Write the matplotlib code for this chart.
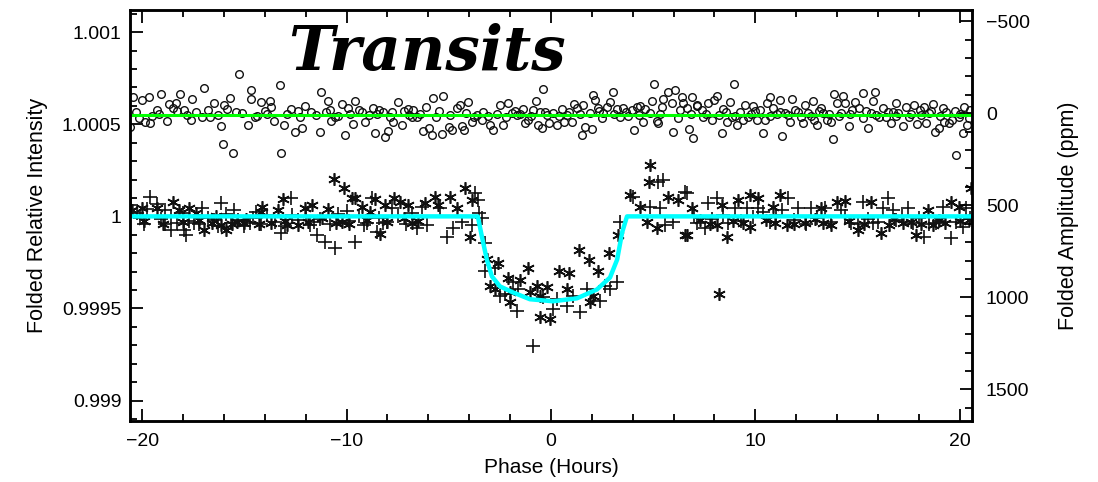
import matplotlib
matplotlib.use("Agg")
import matplotlib.pyplot as plt
from matplotlib.ticker import MultipleLocator, FuncFormatter

# folded data: (phase in hours, amplitude in ppm on the right axis)
circles = [
    (-20.44, -86), (-20.15, 27), (-20.6, 75), (-20.0, -70), (-19.66, -86), (-19.85, 49), (-19.6, 54),
    (-19.3, -16), (-19.07, -103), (-18.77, 43), (-18.68, -49), (-18.33, -54), (-18.14, -103), (-17.94, -16),
    (-17.6, 38), (-17.55, -76), (-16.96, -135), (-17.1, 22), (-16.67, 22), (-16.47, -54), (-16.13, 70),
    (-16.03, 167), (-15.98, -43), (-15.69, -81), (-15.54, 216), (-15.25, -211), (-14.85, 65), (-14.7, -124),
    (-14.66, -76), (-14.5, 22), (-14.17, -59), (-13.77, -65), (-13.68, -32), (-13.53, 43), (-13.28, -151),
    (-13.19, 216), (-13.04, 65), (-12.7, -22), (-12.55, 103), (-12.2, 81), (-12.06, -38), (-11.72, -5),
    (-11.32, 103), (-11.23, -113), (-10.93, -65), (-10.74, 43), (-10.59, 22), (-10.25, -49), (-10.1, 119),
    (-9.95, -27), (-9.6, -65), (-9.7, 59), (-9.26, -5), (-9.12, 49), (-8.73, -27), (-8.63, 108), (-8.24, -5),
    (-8.14, 130), (-7.99, 97), (-7.79, -5), (-7.75, 49), (-7.5, -59), (-7.3, 65), (-7.0, -22), (-6.81, 22),
    (-19.17, 5), (-18.28, -11), (-17.35, -5), (-16.3, 11), (-15.85, -22), (-15.1, 0), (-14.4, 16), (-14.0, -11),
    (-12.9, 5), (-12.4, -11), (-11.5, 11), (-11.0, -5), (-10.4, 16), (-9.85, 5), (-9.4, -16), (-8.9, 11),
    (-8.4, -16), (-7.9, 22), (-7.2, -11), (-6.95, 11), (-20.3, -5), (-19.5, 16), (-18.5, -27), (-17.8, 11),
    (-16.8, -16), (-15.4, -5), (-13.9, 5), (-12.3, 22), (-10.8, -16), (-8.5, 5),
    (-6.76, -16), (-6.57, 22), (-6.27, 97), (-6.13, -32), (-5.98, 81), (-5.83, 119), (-5.78, -81), (-5.64, 22),
    (-5.34, 113), (-5.29, -92), (-5.0, 76), (-4.85, 92), (-4.6, -27), (-4.46, -43), (-4.36, 70), (-4.26, 92),
    (-4.07, -59), (-3.87, 49), (-3.77, 22), (-3.38, 38), (-3.33, -5), (-2.99, 65), (-2.84, 92), (-2.5, -43),
    (-2.35, 65), (-2.1, -54), (-1.91, 0), (-1.67, 11), (-1.37, -22), (-1.27, 54), (-1.13, 38), (-0.88, -16),
    (-0.74, -65), (-0.64, 65), (-0.44, 81), (-0.39, -130), (-0.29, -5), (-0.1, 54), (0.1, 0), (0.29, 65),
    (0.54, -22), (0.64, 49), (0.78, 11), (1.03, 49), (1.13, -49), (1.27, -27), (1.52, 119), (1.57, -43),
    (1.67, 76), (1.91, 0), (2.0, 86), (2.06, -97), (2.16, -70), (2.3, -27), (2.5, 27), (2.55, 0), (2.75, -32),
    (2.89, -59), (3.04, -113), (3.24, -22), (3.38, 22), (3.53, -27), (3.77, 16), (3.97, -16), (4.07, 92),
    (4.2, -32), (4.36, -38), (4.5, 49), (4.6, -22), (4.85, 0), (4.95, -65), (5.05, -157), (5.2, 43), (5.25, 54),
    (5.44, -32), (5.5, -76), (5.74, -113), (5.93, -54), (5.98, 103), (6.08, -124), (6.23, 27), (6.42, -86),
    (6.47, -54), (6.67, -27), (6.76, 86), (6.91, -86), (6.96, 135), (7.16, -38),
    (-6.4, 5), (-5.5, -11), (-4.95, 11), (-4.15, 0), (-3.6, 11), (-3.1, 16), (-2.65, 5), (-2.2, 22), (-1.75, -11),
    (-1.5, 5), (-1.0, 16), (-0.55, -5), (-0.2, 11), (0.4, 16), (0.9, -5), (1.4, 5), (2.35, -11), (3.1, 5),
    (3.65, -5), (4.3, 11), (5.35, 5), (6.3, -16), (6.85, 5),
    (7.16, -43), (7.4, -16), (7.45, 22), (7.7, -54), (7.89, 38), (7.99, -70), (8.14, -92), (8.38, 108),
    (8.43, -22), (8.63, 49), (8.77, -59), (8.87, 22), (8.97, -157), (9.12, 65), (9.26, -5), (9.41, 38),
    (9.51, -43), (9.66, 22), (9.9, -38), (10.1, 38), (10.25, -16), (10.39, 108), (10.49, 38), (10.59, -54),
    (10.74, -86), (10.88, -27), (11.08, 5), (11.23, -70), (11.32, 124), (11.47, 0), (11.72, 49), (11.81, -76),
    (11.96, -16), (12.25, 22), (12.35, 54), (12.45, -43), (12.6, 0), (12.8, -65), (12.89, 38), (13.04, 65),
    (13.19, -27), (13.33, 0), (13.53, 38), (13.68, 49), (13.82, 140), (13.87, -103), (14.02, -54), (14.17, 0),
    (14.31, -92), (14.41, -54), (14.56, 70), (14.75, -16), (14.9, -59), (15.05, -27), (15.25, 27), (15.29, -108),
    (15.49, 81), (15.64, 0), (15.74, -65), (15.88, -113), (16.03, 22), (16.23, -27), (16.37, 22), (16.62, 54),
    (16.72, -5), (16.86, -54), (17.0, 0), (17.25, 70), (17.35, -32), (17.5, 22), (17.75, -43), (17.89, 59),
    (18.04, -16), (18.24, -32), (18.33, 54), (18.48, 0), (18.68, -49), (18.77, 103), (18.97, 81), (19.17, -27),
    (19.22, 49), (19.46, 54), (19.6, 38), (19.75, -11), (19.8, 227), (19.95, 22), (20.15, 108), (20.2, -32),
    (20.34, 65), (20.44, 27),
    (7.6, 5), (8.2, 11), (8.55, -5), (9.0, 16), (9.8, 5), (10.0, -11), (10.7, 16), (11.2, -5), (11.6, 11),
    (12.1, -5), (12.7, 16), (13.1, -11), (13.6, 5), (14.1, 16), (14.65, 5), (15.4, -11), (15.9, 11), (16.5, -5),
    (16.9, 16), (17.6, 5), (18.1, 11), (18.6, -11), (19.05, 16), (19.35, -5), (20.0, 5), (20.5, -16),
]

pluses = [
    (-20.54, 497), (-20.25, 540), (-19.9, 600), (-19.6, 454), (-19.3, 492), (-18.9, 524), (-18.9, 600),
    (-18.58, 632), (-18.28, 594), (-17.94, 632), (-17.84, 659), (-17.45, 594), (-17.1, 513), (-16.5, 578),
    (-16.13, 486), (-15.64, 594), (-15.5, 524), (-14.75, 594), (-14.41, 535), (-13.19, 648), (-12.7, 459),
    (-12.65, 551), (-11.81, 605), (-11.47, 659), (-11.08, 697), (-10.59, 730), (-10.0, 530), (-9.6, 697),
    (-9.17, 605), (-8.77, 459), (-8.53, 643), (-8.24, 594), (-7.79, 513), (-6.57, 621), (-6.32, 508),
    (-20.1, 570), (-19.75, 520), (-19.1, 575), (-18.6, 560), (-18.0, 540), (-17.7, 585), (-17.2, 600),
    (-16.8, 570), (-16.3, 610), (-15.9, 545), (-15.3, 580), (-15.0, 610), (-14.6, 570), (-14.2, 600),
    (-13.9, 555), (-13.5, 590), (-13.0, 610), (-12.4, 580), (-12.0, 560), (-11.6, 590), (-11.3, 575),
    (-10.8, 600), (-10.4, 545), (-9.9, 585), (-9.4, 560), (-9.0, 595), (-8.4, 570), (-8.0, 590), (-7.5, 560),
    (-7.1, 600), (-6.8, 540),
    (-6.08, 605), (-5.44, 513), (-5.1, 670), (-4.8, 621), (-3.73, 432), (-3.58, 470), (-3.87, 605),
    (-3.53, 540), (-4.36, 589), (-3.38, 567),
    (-3.24, 703), (-3.24, 859), (-2.75, 838), (-2.5, 995), (-2.25, 984), (-1.67, 1076), (-1.62, 957),
    (-1.86, 919), (-0.39, 1000), (0.1, 1065), (0.29, 1011), (0.78, 1049), (1.08, 995), (1.42, 1081),
    (1.76, 957), (2.4, 1022), (2.65, 940), (2.89, 957), (3.24, 919), (3.38, 589), (-0.88, 1265),
    (4.02, 454), (5.25, 373), (5.5, 362), (4.85, 508), (5.34, 513), (5.59, 605), (6.57, 427), (5.98, 589),
    (6.67, 432), (7.16, 594), (7.55, 621), (7.7, 486), (8.14, 459), (8.68, 594), (9.02, 513), (9.6, 513),
    (10.15, 513), (10.39, 535), (11.62, 459), (11.32, 524), (12.1, 513), (12.7, 513), (13.43, 513),
    (14.17, 524), (14.66, 594), (15.29, 481), (15.74, 594), (16.47, 459), (16.23, 513), (16.76, 524),
    (17.45, 513), (18.24, 670), (18.82, 594), (19.17, 508), (19.56, 675), (20.15, 616), (20.29, 513),
    (7.0, 560), (7.9, 575), (8.4, 550), (9.3, 585), (9.9, 565), (10.7, 590), (11.0, 555), (11.9, 580),
    (12.5, 600), (13.0, 570), (13.7, 590), (14.4, 560), (15.0, 600), (15.5, 575), (16.0, 590), (16.9, 580),
    (17.2, 560), (17.7, 595), (18.0, 570), (18.5, 600), (19.0, 585), (19.8, 590), (20.5, 570),
]

stars = [
    (-20.49, 524), (-20.0, 513), (-19.3, 513), (-18.5, 481), (-18.19, 524), (-17.7, 513), (-17.35, 540),
    (-16.96, 632), (-16.6, 594), (-16.13, 605), (-15.88, 632), (-15.34, 589), (-15.0, 594), (-14.12, 508),
    (-14.17, 535), (-13.68, 594), (-13.38, 524), (-13.1, 465), (-12.9, 605), (-12.4, 605), (-12.06, 513),
    (-11.67, 497), (-10.93, 519), (-10.64, 357), (-10.15, 405), (-9.75, 459), (-9.6, 459), (-10.25, 589),
    (-9.26, 508), (-8.87, 535), (-8.63, 465), (-8.38, 654), (-8.14, 497), (-7.7, 459), (-7.4, 481),
    (-7.0, 497), (-6.81, 594),
    (-19.9, 585), (-19.0, 600), (-18.0, 590), (-17.2, 580), (-16.4, 560), (-15.6, 600), (-14.9, 575),
    (-14.3, 600), (-13.0, 585), (-11.9, 590), (-11.2, 570), (-10.5, 595), (-9.9, 600), (-9.0, 580),
    (-8.0, 590), (-7.2, 570), (-6.5, 585),
    (-6.18, 486), (-5.69, 454), (-5.54, 497), (-4.95, 454), (-4.6, 513), (-4.2, 405), (-3.87, 470),
    (-3.97, 670),
    (-3.14, 789), (-2.6, 811), (-2.99, 940), (-2.75, 957), (-2.1, 892), (-2.0, 1027), (-1.52, 903),
    (-1.13, 838), (-1.03, 973), (-0.69, 940), (-0.54, 1108), (-0.2, 946), (-0.05, 1119), (0.39, 859),
    (0.88, 870), (1.37, 740), (1.86, 795), (1.91, 1027), (2.3, 859), (2.84, 757), (3.28, 659), (-0.54, 995),
    (0.78, 957), (-2.0, 973), (2.06, 995),
    (3.87, 443), (4.36, 508), (4.85, 281), (4.8, 373), (4.7, 589), (5.74, 454), (5.2, 621), (6.23, 470),
    (6.57, 659),
    (6.67, 659), (6.91, 513), (8.14, 605), (8.38, 497), (8.63, 670), (9.17, 470), (9.75, 443), (10.15, 459),
    (9.75, 616), (10.88, 508), (11.23, 443), (10.98, 594), (11.57, 605), (12.45, 594), (13.19, 513),
    (13.68, 605), (14.02, 481), (14.41, 476), (15.0, 632), (15.64, 481), (16.13, 648), (16.52, 605),
    (17.25, 594), (17.84, 659), (18.43, 524), (18.68, 605), (19.56, 481), (19.95, 508), (20.54, 405),
    (20.44, 578), (8.24, 980),
    (7.3, 580), (7.8, 600), (8.9, 585), (9.4, 595), (10.5, 580), (11.9, 600), (12.9, 575), (13.3, 595),
    (14.6, 585), (15.3, 600), (16.8, 575), (17.6, 590), (18.1, 600), (19.0, 580), (19.3, 595), (20.0, 585),
]

# transit model (cyan) and out-of-transit reference (green)
model_hr = [-20.6, -3.58, -3.38, -3.14, -2.89, -2.5, -1.86, -1.03, 0.1, 1.27, 2.25, 2.89, 3.24, 3.48, 3.72, 20.6]
model_ppm = [560, 560, 670, 794, 886, 940, 973, 1010, 1021, 1005, 957, 892, 794, 648, 560, 560]
ref_hr = [-20.6, 20.6]
ref_ppm = [10, 10]

ZERO = 1.00056  # relative intensity where amplitude is 0 ppm


def to_intensity(ppm):
    return [ZERO - p * 1e-6 for p in ppm]


plt.rcParams['font.family'] = ['Liberation Sans', 'DejaVu Sans']
fig = plt.figure(figsize=(10.98, 4.82), dpi=100)
ax = fig.add_axes([0.1184, 0.127, 0.7668, 0.852])

cx, cy = zip(*circles)
px, py = zip(*pluses)
sx, sy = zip(*stars)
ink = '#111111'
ax.plot(cx, to_intensity(cy), linestyle='none', marker='o', markersize=5.5, markerfacecolor='none',
        markeredgecolor=ink, markeredgewidth=1.0)
ax.plot(px, to_intensity(py), linestyle='none', marker='+', markersize=10, color=ink, markeredgewidth=1.2)
ax.plot(sx, to_intensity(sy), linestyle='none', marker=(6, 2, 0), markersize=9, color=ink, markeredgewidth=1.2)
ax.plot(ref_hr, to_intensity(ref_ppm), color='#00ff00', linewidth=2.2)
ax.plot(model_hr, to_intensity(model_ppm), color='#00ffff', linewidth=3.2, solid_joinstyle='round')

ax.set_xlim(-20.6, 20.6)
ax.set_ylim(0.99889, 1.00112)
ax.xaxis.set_major_locator(MultipleLocator(10))
ax.xaxis.set_minor_locator(MultipleLocator(2))
ax.yaxis.set_major_locator(MultipleLocator(0.0005))
ax.yaxis.set_minor_locator(MultipleLocator(0.0001))
ax.yaxis.set_major_formatter(FuncFormatter(lambda v, p: f"{v:g}"))
ax.tick_params(which='both', direction='in', top=True, right=False, width=1.3, labelsize=14)
ax.tick_params(which='major', length=9)
ax.tick_params(which='minor', length=5)
ax.tick_params(axis='x', pad=9)
ax.tick_params(axis='y', pad=6)

ax2 = ax.twinx()
ax2.set_ylim((ZERO - 0.99889) * 1e6, (ZERO - 1.00112) * 1e6)
ax2.yaxis.set_major_locator(MultipleLocator(500))
ax2.yaxis.set_minor_locator(MultipleLocator(100))
ax2.tick_params(which='both', direction='in', width=1.3, labelsize=14, pad=10)
ax2.tick_params(which='major', length=9)
ax2.tick_params(which='minor', length=5)

for a in (ax, ax2):
    for s in a.spines.values():
        s.set_linewidth(1.8)

ax.set_xlabel('Phase (Hours)', fontsize=15)
ax.set_ylabel('Folded Relative Intensity', fontsize=15.5)
ax2.set_ylabel('Folded Amplitude (ppm)', fontsize=15.5)
ax.xaxis.set_label_coords(0.5, -0.09)
ax.yaxis.set_label_coords(-0.097, 0.5)
ax2.yaxis.set_label_coords(1.102, 0.5)

ax.text(0.188, 0.854, 'Transits', transform=ax.transAxes, fontsize=44, fontweight='bold',
        fontstyle='italic', family='DejaVu Serif', ha='left', va='baseline')

fig.savefig('out.png', dpi=100)
